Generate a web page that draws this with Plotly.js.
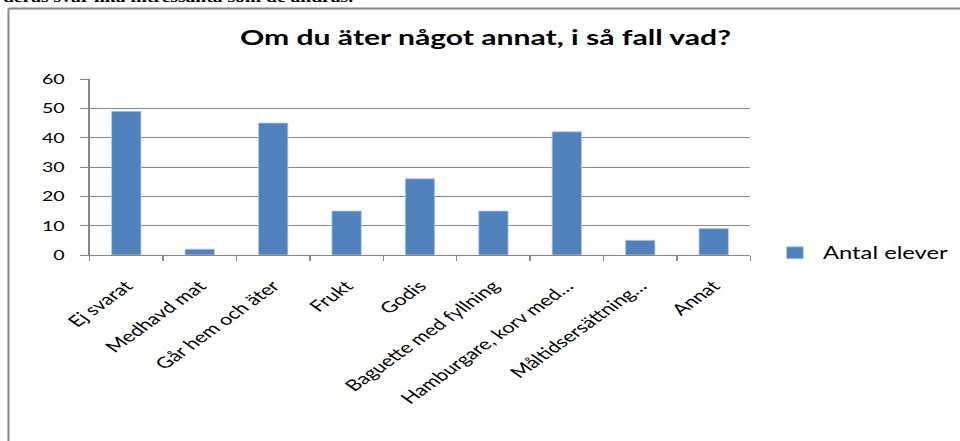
<!DOCTYPE html>
<html><head><meta charset="utf-8">
<script src="https://cdn.plot.ly/plotly-3.0.1.min.js"></script>
<style>
html,body{margin:0;padding:0;background:#fff;overflow:hidden;width:960px;height:441px}
#wrap{width:960px;height:441px;overflow:hidden;position:relative}
#chart{width:686px;height:441px;transform:scaleX(1.4);transform-origin:0 0;}
</style></head><body><div id="wrap"><div id="chart"></div></div>
<script>
const categories = ["Ej svarat", "Medhavd mat", "Går hem och äter", "Frukt", "Godis",
  "Baguette med fyllning", "Hamburgare, korv med…", "Måltidsersättning…", "Annat"];
const antalElever = [49, 2, 45, 15, 26, 15, 42, 5, 9];
const yTicks = [0, 10, 20, 30, 40, 50, 60];
const seriesName = "Antal elever";
const chartTitle = "Om du äter något annat, i så fall vad?";
const pageText = "deras svar lika intressanta som de andras.";

const gray = "#878787";
const trace = {
  type: "bar", x: categories, y: antalElever, name: seriesName,
  marker: {color: "#4F81BD", line: {color: "rgba(185,205,229,0.9)", width: 0.7}},
  showlegend: true, hoverinfo: "skip"
};
const layout = {
  width: 686, height: 441,
  margin: {l: 64.3, r: 150.3, t: 79.3, b: 186.4, autoexpand: false},
  paper_bgcolor: "#fff", plot_bgcolor: "#fff",
  font: {family: "Lato, 'Open Sans', sans-serif", color: "#000", size: 15},
  title: {text: chartTitle, font: {family: "Lato", size: 21.5, weight: 700, color: "#000"},
          x: 0.5055, xref: "container", xanchor: "center", y: 1 - 30/441, yref: "container", yanchor: "top"},
  bargap: 0.6,
  xaxis: {type: "category", tickangle: -45, tickson: "boundaries", ticks: "outside", ticklen: 5,
          tickcolor: gray, showline: true, linecolor: gray, linewidth: 1, showgrid: false,
          ticklabelstandoff: 15,
          tickfont: {size: 15.5, family: "Lato"}, automargin: false, fixedrange: true},
  yaxis: {range: [0, 60], tickvals: yTicks, ticktext: yTicks.map(String), ticks: "outside", ticklen: 6,
          tickcolor: gray, showline: true, linecolor: gray, linewidth: 1, showgrid: true,
          gridcolor: gray, gridwidth: 1, zeroline: false, tickfont: {size: 14, family: "Lato"},
          ticklabelstandoff: 8,
          automargin: false, fixedrange: true},
  legend: {x: 1.025, xref: "paper", y: 0.01, yanchor: "middle", xanchor: "left",
           font: {size: 17, family: "Lato"}, bgcolor: "rgba(0,0,0,0)"},
  shapes: [
    {type: "line", xref: "paper", yref: "paper", x0: -0.1228, x1: -0.1228, y0: 1.401, y1: -2,
     line: {color: gray, width: 1.4}},
    {type: "line", xref: "paper", yref: "paper", x0: -0.1228, x1: 1.6, y0: 1.401, y1: 1.401,
     line: {color: gray, width: 2}}
  ],
  annotations: [
    {text: "<b>" + pageText + "</b>", xref: "paper", yref: "paper", x: -0.1364, y: 1.41,
     xanchor: "left", yanchor: "bottom", showarrow: false,
     font: {family: "'Liberation Serif', 'Times New Roman', serif", size: 14, color: "#000"}}
  ]
};
Plotly.newPlot("chart", [trace], layout, {displayModeBar: false, staticPlot: true});
</script></body></html>
